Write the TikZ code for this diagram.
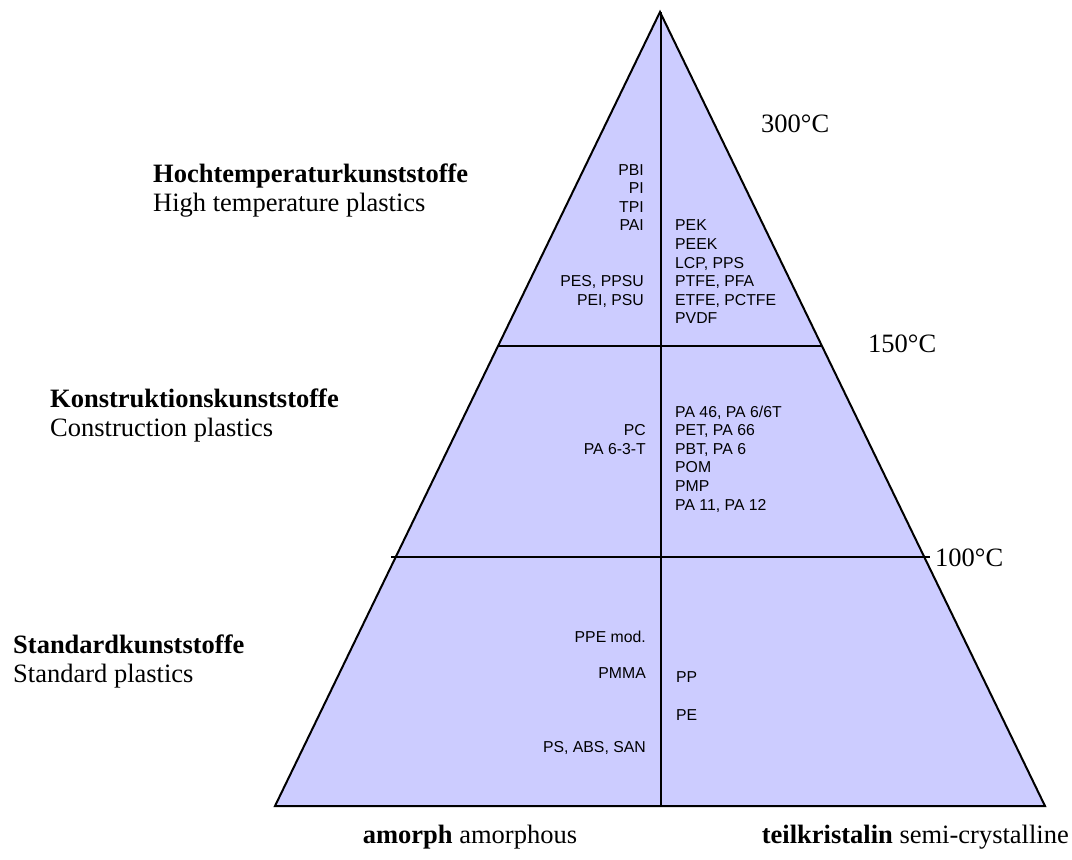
\documentclass[tikz,border=0pt]{standalone}
\usepackage{fontspec}
\setmainfont{Liberation Serif}
\newfontfamily\arialf{Liberation Sans}
\begin{document}
\begin{tikzpicture}[x=1pt,y=-1pt,
  pyrfill/.style={fill=pyrcol},
  edge/.style={draw=black, line width=2pt},
  heading/.style={inner sep=0pt, anchor=base west, font=\fontsize{26.5}{28}\selectfont},
  temp/.style={inner sep=0pt, anchor=base west, font=\fontsize{26.5}{28}\selectfont},
  lcol/.style={inner sep=0pt, anchor=base east, font=\arialf\fontsize{15.8}{17}\selectfont},
  rcol/.style={inner sep=0pt, anchor=base west, font=\arialf\fontsize{15.8}{17}\selectfont}]
\definecolor{pyrcol}{HTML}{CCCCFF}
\useasboundingbox (0,0) rectangle (1072,860);
% pyramid
\coordinate (apex) at (660,12);
\coordinate (bl) at (275,806);
\coordinate (br) at (1045,806);
\coordinate (vtop) at (661,12);
\coordinate (vbot) at (661,806);
\coordinate (l1) at (498,346);
\coordinate (r1) at (822,346);
\coordinate (l2) at (391,557);
\coordinate (r2) at (930,557);
\fill[pyrfill] (apex) -- (bl) -- (br) -- cycle;
\draw[edge] (l1) -- (r1);
\draw[edge] (l2) -- (r2);
\draw[edge] (vtop) -- (vbot);
\draw[edge, line join=miter] (apex) -- (bl) -- (br) -- cycle;
% headings
\node[heading] (hoch) at (153,182) {\textbf{Hochtemperaturkunststoffe}};
\node[heading] (hochen) at (153,211) {High temperature plastics};
\node[heading] (konst) at (50,407) {\textbf{Konstruktionskunststoffe}};
\node[heading] (konsten) at (50,436) {Construction plastics};
\node[heading] (stand) at (13,653) {\textbf{Standardkunststoffe}};
\node[heading] (standen) at (13,682) {Standard plastics};
% temperatures
\node[temp] (t300) at (761,132) {300°C};
\node[temp] (t150) at (868,352) {150°C};
\node[temp] (t100) at (935,566) {100°C};
% bottom labels
\node[inner sep=0pt, anchor=base, font=\fontsize{26.5}{28}\selectfont] (amorph) at (470,843) {\textbf{amorph} amorphous};
\node[inner sep=0pt, anchor=base east, font=\fontsize{26.5}{28}\selectfont] (teil) at (1069,843) {\textbf{teilkristalin} semi-crystalline};
% top section
\node[lcol] (pbi) at (644,175) {PBI};
\node[lcol] (pi) at (644,193.6) {PI};
\node[lcol] (tpi) at (644,212.2) {TPI};
\node[lcol] (pai) at (644,230.8) {PAI};
\node[lcol] (pes) at (644,286.6) {PES, PPSU};
\node[lcol] (pei) at (644,305.2) {PEI, PSU};
\node[rcol] (pek) at (675,230.8) {PEK};
\node[rcol] (peek) at (675,249.4) {PEEK};
\node[rcol] (lcp) at (675,268) {LCP, PPS};
\node[rcol] (ptfe) at (675,286.6) {PTFE, PFA};
\node[rcol] (etfe) at (675,305.2) {ETFE, PCTFE};
\node[rcol] (pvdf) at (675,323.8) {PVDF};
% middle section
\node[lcol] (pc) at (646,435.6) {PC};
\node[lcol] (pa63t) at (646,454.2) {PA 6-3-T};
\node[rcol] (pa46) at (675,417) {PA 46, PA 6/6T};
\node[rcol] (pet) at (675,435.6) {PET, PA 66};
\node[rcol] (pbt) at (675,454.2) {PBT, PA 6};
\node[rcol] (pom) at (675,472.8) {POM};
\node[rcol] (pmp) at (675,491.4) {PMP};
\node[rcol] (pa11) at (675,510) {PA 11, PA 12};
% bottom section
\node[lcol] (ppe) at (646,642) {PPE mod.};
\node[lcol] (pmma) at (646,678) {PMMA};
\node[lcol] (ps) at (646,752) {PS, ABS, SAN};
\node[rcol] (pp) at (676,682) {PP};
\node[rcol] (pe) at (676,720) {PE};
\end{tikzpicture}
\end{document}
